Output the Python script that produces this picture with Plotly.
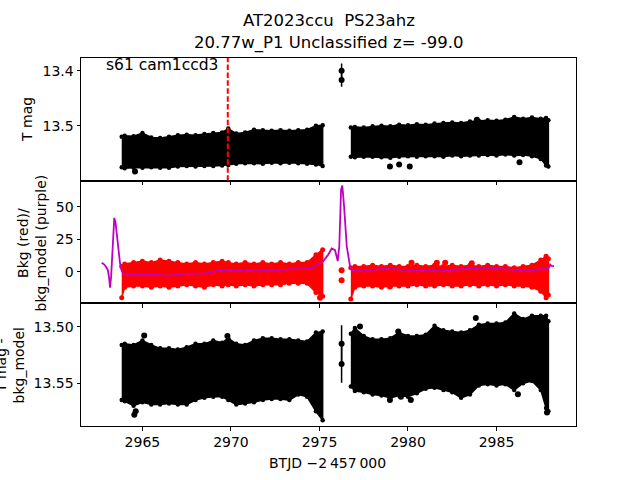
import plotly.graph_objects as go
from plotly.subplots import make_subplots

# ---------------- data ----------------
# x positions of the envelope samples, segment A (before gap) and B (after gap)
seg_a_x = [2963.83, 2964.0, 2964.5, 2965.0, 2965.5, 2966.0, 2966.5, 2967.0, 2967.5, 2968.0,
           2968.5, 2969.0, 2969.5, 2969.85, 2970.3, 2970.8, 2971.3, 2971.8, 2972.3, 2972.8,
           2973.3, 2973.8, 2974.3, 2974.8, 2975.18]
seg_b_x = [2976.77, 2977.0, 2977.5, 2978.0, 2978.5, 2979.0, 2979.5, 2980.0, 2980.5, 2981.0,
           2981.5, 2982.0, 2982.5, 2983.0, 2983.5, 2984.0, 2984.5, 2985.0, 2985.5, 2986.0,
           2986.5, 2987.0, 2987.5, 2987.8, 2987.93]

# Panel 1: T mag envelope (bright edge / faint edge)
tmag_a_top = [13.520, 13.518, 13.519, 13.513, 13.521, 13.522, 13.520, 13.517, 13.516, 13.517,
              13.515, 13.513, 13.512, 13.505, 13.514, 13.512, 13.507, 13.508, 13.509, 13.508,
              13.509, 13.508, 13.507, 13.500, 13.499]
tmag_a_bot = [13.575, 13.577, 13.576, 13.576, 13.575, 13.576, 13.576, 13.574, 13.573, 13.574,
              13.573, 13.573, 13.572, 13.571, 13.569, 13.568, 13.568, 13.569, 13.567, 13.568,
              13.567, 13.568, 13.569, 13.570, 13.573]
tmag_b_top = [13.503, 13.502, 13.503, 13.501, 13.500, 13.501, 13.498, 13.499, 13.497, 13.498,
              13.496, 13.495, 13.494, 13.495, 13.492, 13.491, 13.490, 13.491, 13.489, 13.484,
              13.487, 13.485, 13.487, 13.486, 13.490]
tmag_b_bot = [13.556, 13.557, 13.556, 13.556, 13.557, 13.558, 13.556, 13.555, 13.556, 13.555,
              13.555, 13.556, 13.554, 13.555, 13.554, 13.554, 13.553, 13.554, 13.552, 13.554,
              13.553, 13.555, 13.560, 13.572, 13.574]
tmag_out_x = [2964.58, 2978.98, 2979.50, 2980.10, 2986.30, 2983.89, 2979.45]
tmag_out_y = [13.583, 13.574, 13.570, 13.574, 13.566, 13.489, 13.502]
tmag_iso_x = [2976.25, 2976.25]
tmag_iso_y = [13.400, 13.417]
tmag_iso_err = [0.013, 0.012]

# Panel 2: background (red) envelope and background model (purple)
bkg_a_top = [4, 6, 7, 8, 7, 9, 8, 7, 6, 7, 6, 7, 8, 7, 6, 7, 6, 7, 6, 7, 6, 7, 7, 13, 17]
bkg_a_bot = [-20, -12, -11, -11, -12, -11, -12, -11, -10, -11, -12, -10, -11, -10, -11, -10,
             -11, -10, -10, -10, -9, -9, -9, -16, -19]
bkg_b_top = [3, 4, 4, 5, 4, 5, 4, 4, 5, 4, 5, 4, 5, 4, 5, 4, 5, 4, 4, 3, 4, 5, 9, 12, 10]
bkg_b_bot = [-21, -12, -11, -11, -12, -11, -11, -11, -10, -11, -11, -10, -11, -11, -10, -11,
             -10, -11, -10, -11, -11, -12, -15, -20, -18]
bkg_out_x = [2976.25, 2976.25, 2975.03, 2980.2, 2981.63, 2982.1, 2983.6, 2978.98]
bkg_out_y = [1.2, -6.5, -20, 6.9, 6.9, 6.9, 6.5, -11.5]
model_x = [2962.70, 2962.85, 2962.94, 2963.05, 2963.12, 2963.17, 2963.23, 2963.30, 2963.36, 2963.41,
           2963.48, 2963.55, 2963.65, 2963.73, 2963.82, 2963.92, 2964.5, 2965.5, 2966.5, 2967.5,
           2968.5, 2969.5, 2970.5, 2971.5, 2972.5, 2973.5, 2974.3, 2974.6, 2974.85, 2975.22,
           2975.50, 2975.69, 2975.88, 2976.03, 2976.12, 2976.22, 2976.29, 2976.39, 2976.54, 2976.73,
           2976.92, 2977.8, 2978.61, 2979.4, 2980.12, 2981.0, 2981.8, 2982.5, 2983.3, 2984.45,
           2985.58, 2986.71, 2987.2, 2987.65, 2987.93, 2988.03, 2988.10, 2988.25]
model_y = [6.9, 5.5, 3.8, 1.0, -5.0, -12.3, -4.0, 15.0, 35.0, 41.5,
           38.0, 30.0, 15.0, 7.0, 1.0, -1.5, -2.5, -2.0, -3.0, -1.5,
           -1.5, 1.5, 1.0, 1.5, 1.0, 2.0, 2.0, 3.0, 5.6, 8.2,
           13.3, 17.9, 16.6, 8.2, 19.7, 63.3, 66.4, 50.5, 19.7, 3.8,
           0.5, 1.0, 2.3, 1.5, 1.2, 1.0, 0.5, 1.5, 2.3, 3.1,
           1.8, 0.5, 1.0, 2.3, 2.0, 5.6, 4.5, 4.3]

# Panel 3: T mag - bkg_model envelope
diff_a_top = [13.516, 13.515, 13.516, 13.512, 13.516, 13.519, 13.519, 13.520, 13.518, 13.515,
              13.515, 13.512, 13.514, 13.510, 13.515, 13.516, 13.512, 13.510, 13.510, 13.511,
              13.511, 13.512, 13.513, 13.505, 13.504]
diff_a_bot = [13.565, 13.566, 13.570, 13.567, 13.569, 13.569, 13.568, 13.569, 13.569, 13.565,
              13.563, 13.562, 13.562, 13.565, 13.569, 13.568, 13.567, 13.565, 13.564, 13.564,
              13.565, 13.560, 13.562, 13.575, 13.583]
diff_b_top = [13.506, 13.501, 13.508, 13.511, 13.511, 13.510, 13.505, 13.508, 13.508, 13.507,
              13.499, 13.503, 13.504, 13.505, 13.503, 13.498, 13.497, 13.497, 13.496, 13.488,
              13.493, 13.490, 13.490, 13.490, 13.495]
diff_b_bot = [13.553, 13.557, 13.558, 13.560, 13.561, 13.563, 13.561, 13.562, 13.559, 13.555,
              13.554, 13.556, 13.558, 13.563, 13.560, 13.552, 13.551, 13.552, 13.551, 13.556,
              13.550, 13.548, 13.556, 13.572, 13.575]
diff_out_x = [2964.54, 2964.62, 2965.10, 2969.80, 2977.29, 2979.45, 2978.98, 2979.60, 2980.16,
              2983.83, 2984.10, 2986.21, 2987.85]
diff_out_y = [13.578, 13.575, 13.5075, 13.508, 13.4995, 13.504, 13.565, 13.562, 13.565,
              13.492, 13.501, 13.5597, 13.576]
diff_iso_x = [2976.25, 2976.25]
diff_iso_y = [13.515, 13.533]
diff_iso_err = [0.0165, 0.0165]

event_x = 2969.82
x_ticks = [2965, 2970, 2975, 2980, 2985]
x_range = [2961.53, 2989.49]
y1_range = [13.5995, 13.377]
y2_range = [-24.4, 70.2]
y3_range = [13.588, 13.479]

title_line1 = "AT2023ccu  PS23ahz"
title_line2 = "20.77w_P1 Unclassified z= -99.0"
corner_text = "s61 cam1ccd3"

BLACK = "#000000"
RED = "#ff0000"
PURPLE = "#bf00bf"
FONT = "DejaVu Sans"

fig = make_subplots(rows=3, cols=1, shared_xaxes=True, vertical_spacing=0)


def band(xs, top, bot, color, row, msize=5):
    fig.add_trace(go.Scatter(x=xs + xs[::-1], y=top + bot[::-1], fill="toself",
                             fillcolor=color, mode="lines",
                             line=dict(color=color, width=1.5),
                             hoverinfo="skip", showlegend=False), row=row, col=1)
    fig.add_trace(go.Scatter(x=xs + xs, y=top + bot, mode="markers",
                             marker=dict(color=color, size=msize),
                             hoverinfo="skip", showlegend=False), row=row, col=1)


def points(xs, ys, color, row, size=6, err=None):
    kw = {}
    if err is not None:
        kw["error_y"] = dict(type="data", array=err, visible=True, color=color,
                             thickness=1.5, width=0)
    fig.add_trace(go.Scatter(x=xs, y=ys, mode="markers",
                             marker=dict(color=color, size=size),
                             showlegend=False, **kw), row=row, col=1)


# panel 1
band(seg_a_x, tmag_a_top, tmag_a_bot, BLACK, 1, msize=4.5)
band(seg_b_x, tmag_b_top, tmag_b_bot, BLACK, 1, msize=4.5)
points(tmag_out_x, tmag_out_y, BLACK, 1)
points(tmag_iso_x, tmag_iso_y, BLACK, 1, err=tmag_iso_err)
fig.add_vline(x=event_x, row=1, col=1, line=dict(color=RED, width=2, dash="5.5px,2.4px"))

# panel 2
band(seg_a_x, bkg_a_top, bkg_a_bot, RED, 2, msize=5)
band(seg_b_x, bkg_b_top, bkg_b_bot, RED, 2, msize=5)
points(bkg_out_x, bkg_out_y, RED, 2)
fig.add_trace(go.Scatter(x=model_x, y=model_y, mode="lines",
                         line=dict(color=PURPLE, width=1.8),
                         showlegend=False), row=2, col=1)

# panel 3
band(seg_a_x, diff_a_top, diff_a_bot, BLACK, 3, msize=4.5)
band(seg_b_x, diff_b_top, diff_b_bot, BLACK, 3, msize=4.5)
points(diff_out_x, diff_out_y, BLACK, 3)
points(diff_iso_x, diff_iso_y, BLACK, 3, err=diff_iso_err)

axis_common = dict(showline=True, linecolor="black", linewidth=1, mirror=True,
                   ticks="outside", ticklen=3.5, tickwidth=1, tickcolor="black",
                   showgrid=False, zeroline=False,
                   tickfont=dict(family=FONT, size=14, color="black"))

for r in (1, 2, 3):
    fig.update_xaxes(range=x_range, tickvals=x_ticks, row=r, col=1, **axis_common)
fig.update_xaxes(showticklabels=False, row=1, col=1)
fig.update_xaxes(showticklabels=False, row=2, col=1)
fig.update_xaxes(showticklabels=True, row=3, col=1)

fig.update_yaxes(range=y1_range, tickvals=[13.4, 13.5], ticktext=["13.4", "13.5"],
                 row=1, col=1, **axis_common)
fig.update_yaxes(range=y2_range, tickvals=[0, 25, 50], row=2, col=1, **axis_common)
fig.update_yaxes(range=y3_range, tickvals=[13.50, 13.55], ticktext=["13.50", "13.55"],
                 row=3, col=1, **axis_common)

L, R, T, B = 81, 64, 58, 54
PW, PH = 640 - L - R, 480 - T - B


def px_x(px):
    return (px - L) / PW


def px_y(py):
    return (480 - B - py) / PH


annots = [
    dict(text=title_line1, x=0.5, y=px_y(21), font=dict(size=16.5)),
    dict(text=title_line2, x=0.5, y=px_y(43), font=dict(size=16.5)),
    dict(text=corner_text, x=px_x(104), y=px_y(65), xanchor="left", font=dict(size=15.5)),
    dict(text="T mag", x=px_x(27), y=px_y(120), textangle=-90, font=dict(size=14)),
    dict(text="Bkg (red)/<br>bkg_model (purple)", x=px_x(31.5), y=px_y(243), textangle=-90,
         font=dict(size=14)),
    dict(text="T mag -<br>bkg_model", x=px_x(9.5), y=px_y(366), textangle=-90,
         font=dict(size=14)),
    dict(text="BTJD \u22122\u2009457\u2009000", x=px_x(327.5), y=px_y(463), font=dict(size=14)),
]
for a in annots:
    a.setdefault("xanchor", "center")
    a["yanchor"] = "middle"
    a["xref"] = "paper"
    a["yref"] = "paper"
    a["showarrow"] = False
    a["font"] = dict(family=FONT, color="black", **a["font"])
    fig.add_annotation(**a)

fig.update_layout(width=640, height=480, margin=dict(l=L, r=R, t=T, b=B),
                  plot_bgcolor="white", paper_bgcolor="white",
                  font=dict(family=FONT, color="black"), showlegend=False)

fig.write_html("out.html", config={"displayModeBar": False},
               post_script="document.body.style.margin='0';document.body.style.padding='0';")
